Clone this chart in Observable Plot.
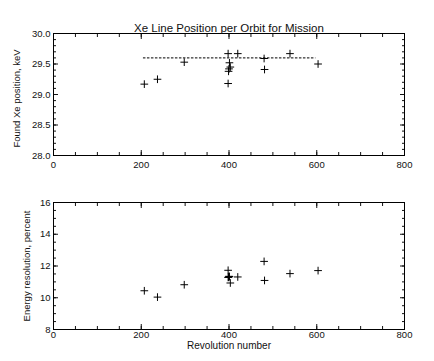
<!DOCTYPE html>
<html>
<head>
<meta charset="utf-8">
<script src="https://cdn.jsdelivr.net/npm/d3@7"></script>
<script src="https://cdn.jsdelivr.net/npm/@observablehq/plot@0.6"></script>
<style>
  html, body { margin: 0; padding: 0; background: white; }
  svg { display: block; }
</style>
</head>
<body>
<div id="chart"></div>
<script>
// ---- data ----
const title = "Xe Line Position per Orbit for Mission";
const topLabel = "Found Xe position, keV";
const bottomLabel = "Energy resolution, percent";
const xLabel = "Revolution number";

const revolution = [207, 237, 298, 398, 401, 403, 399, 400, 398, 420, 480, 481, 539, 603];
const xePosition = [29.17, 29.25, 29.53, 29.67, 29.52, 29.45, 29.38, 29.42, 29.18, 29.67, 29.59, 29.41, 29.67, 29.50];
const resolution = [10.44, 10.04, 10.82, 11.73, 11.33, 10.93, 11.30, 11.35, 11.28, 11.31, 12.29, 11.09, 11.52, 11.71];

const meanX = [205, 598];
const meanY = 29.6;

const xMajor = [0, 200, 400, 600, 800];
const xMinor = d3.range(0, 801, 50);
const topMajor = [28.0, 28.5, 29.0, 29.5, 30.0];
const topMinor = d3.range(28.0, 30.001, 0.1).map(v => +v.toFixed(1));
const botMajor = [8, 10, 12, 14, 16];
const botMinor = d3.range(8, 16.001, 0.5);

const rows = revolution.map((r, i) => ({rev: r, pos: xePosition[i], res: resolution[i]}));

const FONT = "Liberation Sans";
const MAJ = -5, MIN = -3;

function frameAxes(yMajor, yMinor, yFmt, xPad) {
  const blank = () => "";
  return [
    Plot.axisX({anchor: "bottom", ticks: xMajor, tickSize: MAJ, tickPadding: xPad, tickFormat: d => d, label: null, fontSize: 9.5}),
    Plot.axisX({anchor: "bottom", ticks: xMinor, tickSize: MIN, tickFormat: blank, label: null}),
    Plot.axisX({anchor: "top", ticks: xMajor, tickSize: MAJ, tickFormat: blank, label: null}),
    Plot.axisX({anchor: "top", ticks: xMinor, tickSize: MIN, tickFormat: blank, label: null}),
    Plot.axisY({anchor: "left", ticks: yMajor, tickSize: MAJ, tickPadding: 8, tickFormat: yFmt, label: null, fontSize: 9.5}),
    Plot.axisY({anchor: "left", ticks: yMinor, tickSize: MIN, tickFormat: blank, label: null}),
    Plot.axisY({anchor: "right", ticks: yMajor, tickSize: MAJ, tickFormat: blank, label: null}),
    Plot.axisY({anchor: "right", ticks: yMinor, tickSize: MIN, tickFormat: blank, label: null}),
    Plot.frame({stroke: "black", strokeWidth: 1})
  ];
}

const topPlot = Plot.plot({
  width: 434, height: 180,
  marginLeft: 53, marginRight: 30, marginTop: 33, marginBottom: 25,
  style: {fontFamily: FONT, fontSize: "9.5px", background: "white", color: "#111"},
  x: {domain: [0, 800], axis: null},
  y: {domain: [28, 30], axis: null},
  marks: [
    ...frameAxes(topMajor, topMinor, d3.format(".1f"), 11),
    Plot.ruleY([meanY], {x1: meanX[0], x2: meanX[1], stroke: "black", strokeDasharray: "2.5,1.5"}),
    Plot.dot(rows, {x: "rev", y: "pos", symbol: "plus", r: 2.6, stroke: "black", strokeWidth: 1}),
    Plot.text([title], {frameAnchor: "top", dy: -10, fontSize: 11.5, fill: "#111"}),
    Plot.text([topLabel], {frameAnchor: "left", textAnchor: "middle", rotate: -90, dx: -37, dy: 4, fontSize: 9.5, fill: "#111"})
  ]
});

const bottomPlot = Plot.plot({
  width: 434, height: 181,
  marginLeft: 53, marginRight: 30, marginTop: 22, marginBottom: 32,
  style: {fontFamily: FONT, fontSize: "9.5px", background: "white", color: "#111"},
  x: {domain: [0, 800], axis: null},
  y: {domain: [8, 16], axis: null},
  marks: [
    ...frameAxes(botMajor, botMinor, d => d, 7),
    Plot.dot(rows, {x: "rev", y: "res", symbol: "plus", r: 2.6, stroke: "black", strokeWidth: 1}),
    Plot.text([bottomLabel], {frameAnchor: "left", textAnchor: "middle", rotate: -90, dx: -27, fontSize: 9.5, fill: "#111"}),
    Plot.text([xLabel], {frameAnchor: "bottom", dy: 19, fontSize: 10, fill: "#111"})
  ]
});

const chart = document.getElementById("chart");
chart.appendChild(topPlot);
chart.appendChild(bottomPlot);
</script>
</body>
</html>
